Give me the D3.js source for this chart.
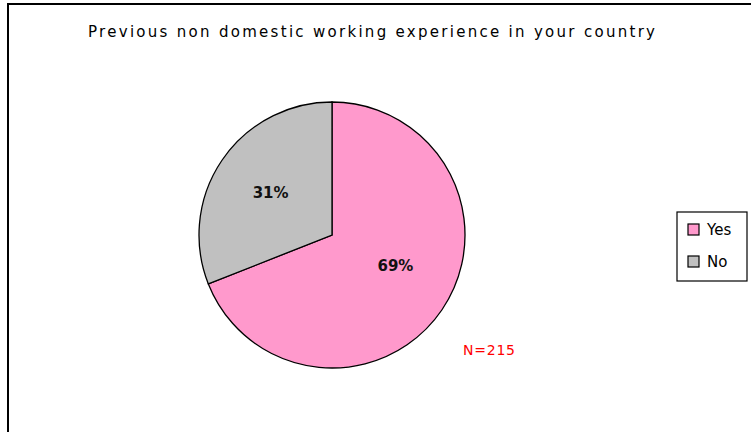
<!DOCTYPE html>
<html>
<head>
<meta charset="utf-8">
<script src="https://cdn.jsdelivr.net/npm/d3@7"></script>
<style>
  html, body { margin: 0; padding: 0; background: #fff; }
  svg { display: block; font-family: "DejaVu Sans", Verdana, sans-serif; }
</style>
</head>
<body>
<div id="chart"></div>
<script>
// chart values
const categories = ["Yes", "No"];
const shares = [69, 31];
const sliceColors = ["#ff99cc", "#c0c0c0"];
const titleText = "Previous non domestic working experience in your country";
const noteText = "N=215";

const W = 751, H = 432;
const cx = 332, cy = 235, R = 133;

const svg = d3.select("#chart").append("svg")
    .attr("width", W).attr("height", H);

// outer chart frame (runs off the right and bottom edges)
svg.append("rect")
    .attr("x", 8).attr("y", 4)
    .attr("width", W + 20).attr("height", H + 20)
    .attr("fill", "#fff").attr("stroke", "#000").attr("stroke-width", 2);

svg.append("text")
    .attr("x", 88).attr("y", 37)
    .attr("textLength", 567).attr("lengthAdjust", "spacing")
    .style("font-size", "15px").style("fill", "#000")
    .text(titleText);

const color = d3.scaleOrdinal().domain(categories).range(sliceColors);

const pie = d3.pie().sort(null).value(d => d.v);
const arcs = pie(categories.map((c, i) => ({ c, v: shares[i] })));
const arc = d3.arc().innerRadius(0).outerRadius(R);
const labelArc = d3.arc().innerRadius(R * 0.54).outerRadius(R * 0.54);

const g = svg.append("g").attr("transform", `translate(${cx},${cy})`);

g.selectAll("path.slice")
    .data(arcs)
    .join("path")
    .attr("class", "slice")
    .attr("d", arc)
    .attr("fill", d => color(d.data.c))
    .attr("stroke", "#000").attr("stroke-width", 1.3);

// the big slice's label sits a little above its centroid in the original
g.selectAll("text.pct")
    .data(arcs)
    .join("text")
    .attr("class", "pct")
    .attr("transform", d => {
        const [x, y] = labelArc.centroid(d);
        return d.index === 0 ? `translate(${x + 4},${y - 10})` : `translate(${x - 2},${y - 2})`;
    })
    .attr("text-anchor", "middle").attr("dy", "0.35em")
    .style("font-size", "15px").style("font-weight", "bold")
    .style("fill", "#111")
    .text(d => d.data.v + "%");

svg.append("text")
    .attr("x", 463).attr("y", 355)
    .attr("textLength", 52).attr("lengthAdjust", "spacing")
    .style("font-size", "14px").style("fill", "#ff0000")
    .text(noteText);

// legend
const lg = svg.append("g").attr("transform", "translate(677,212)");
lg.append("rect")
    .attr("width", 70).attr("height", 69)
    .attr("fill", "#fff").attr("stroke", "#000").attr("stroke-width", 1.2);

const item = lg.selectAll("g.item")
    .data(categories)
    .join("g")
    .attr("class", "item")
    .attr("transform", (d, i) => `translate(11,${12 + i * 32})`);
item.append("rect")
    .attr("width", 11).attr("height", 11)
    .attr("fill", d => color(d))
    .attr("stroke", "#000").attr("stroke-width", 1.2);
item.append("text")
    .attr("x", 19).attr("y", 11)
    .style("font-size", "15px").style("fill", "#000")
    .text(d => d);
</script>
</body>
</html>
